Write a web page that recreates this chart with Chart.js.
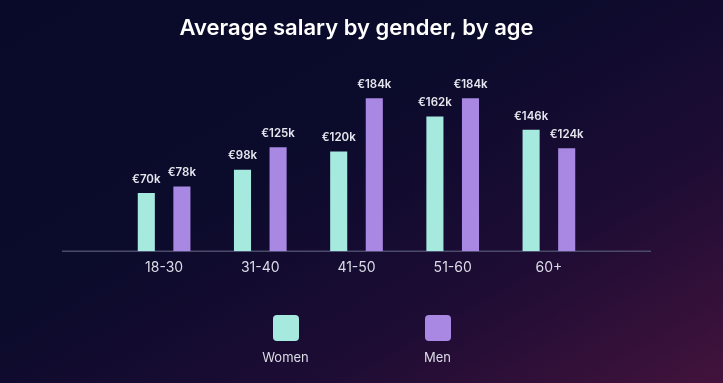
<!DOCTYPE html>
<html>
<head>
<meta charset="utf-8">
<script src="https://cdn.jsdelivr.net/npm/chart.js@4.4.1/dist/chart.umd.min.js"></script>
<style>
  html, body { margin: 0; padding: 0; }
  body {
    width: 723px; height: 383px; overflow: hidden; position: relative;
    background: linear-gradient(150deg, #090a29 0%, #0b0b2c 40%, #1d0c34 70%, #42133c 100%);
    font-family: Inter, "Noto Sans", sans-serif;
  }
  #wrap { position: absolute; left: 0; top: 0; width: 723px; height: 383px; }
  #legend {
    position: absolute; left: 0; top: 315px; width: 723px;
    display: flex; justify-content: center; gap: 72px;
  }
  .item { width: 80px; display: flex; flex-direction: column; align-items: center; }
  .box { width: 26px; height: 26px; border-radius: 4px; }
  .lbl { margin-top: 8px; font-size: 13px; color: #dcdce6; }
</style>
</head>
<body>
<div id="wrap"><canvas id="salaryChart"></canvas></div>
<div id="legend"></div>
<script>
// age groups and average salary in thousands of euros
const ageGroups = ['18-30', '31-40', '41-50', '51-60', '60+'];
const women = [70, 98, 120, 162, 146];
const men = [78, 125, 184, 184, 124];

const womenColor = '#a6e9de';
const menColor = '#a888e2';

// value labels above each bar
const valueLabels = {
    id: 'valueLabels',
    afterDatasetsDraw(chart) {
        const ctx = chart.ctx;
        ctx.save();
        ctx.font = '600 11.5px Inter, "Noto Sans", sans-serif';
        ctx.fillStyle = '#e6e6ee';
        ctx.textAlign = 'center';
        ctx.textBaseline = 'bottom';
        chart.data.datasets.forEach((ds, i) => {
            chart.getDatasetMeta(i).data.forEach((bar, j) => {
                ctx.fillText('€' + ds.data[j] + 'k', bar.x, bar.y - 8);
            });
        });
        ctx.restore();
    }
};

// baseline running a bit past the plot area
const baseline = {
    id: 'baseline',
    beforeDatasetsDraw(chart) {
        const ctx = chart.ctx;
        const y = chart.scales.y.getPixelForValue(0);
        ctx.save();
        ctx.strokeStyle = '#4b4a6b';
        ctx.lineWidth = 1.5;
        ctx.beginPath();
        ctx.moveTo(chart.chartArea.left - 54, y);
        ctx.lineTo(chart.chartArea.right + 54, y);
        ctx.stroke();
        ctx.restore();
    }
};

const chart = new Chart(document.getElementById('salaryChart').getContext('2d'), {
    type: 'bar',
    data: {
        labels: ageGroups,
        datasets: [
            { label: 'Women', data: women, backgroundColor: womenColor },
            { label: 'Men', data: men, backgroundColor: menColor }
        ]
    },
    options: {
        responsive: true,
        maintainAspectRatio: false,
        animation: false,
        layout: { padding: { left: 116, right: 126, top: 0, bottom: 107 } },
        datasets: { bar: { categoryPercentage: 0.74, barPercentage: 0.48 } },
        plugins: {
            legend: { display: false },
            tooltip: { enabled: false },
            title: {
                display: true,
                text: 'Average salary by gender, by age',
                color: '#ffffff',
                font: { family: 'Inter, "Noto Sans", sans-serif', size: 22, weight: '600' },
                padding: { top: 15, bottom: 43.6 }
            }
        },
        scales: {
            x: {
                grid: { display: false },
                border: { display: false },
                ticks: {
                    color: '#dcdce6',
                    padding: 0,
                    font: { family: 'Inter, "Noto Sans", sans-serif', size: 14 }
                }
            },
            y: {
                display: false,
                min: 0,
                max: 200
            }
        }
    },
    plugins: [baseline, valueLabels]
});

// legend: colored square with name under it
const legend = document.getElementById('legend');
chart.data.datasets.forEach(ds => {
    const item = document.createElement('div');
    item.className = 'item';
    item.innerHTML = '<div class="box" style="background:' + ds.backgroundColor + '"></div>' +
        '<div class="lbl">' + ds.label + '</div>';
    legend.appendChild(item);
});
</script>
</body>
</html>
